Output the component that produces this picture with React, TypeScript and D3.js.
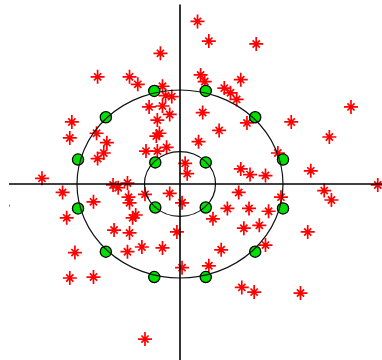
import React from "react";
import * as d3 from "d3";

const W = 382;
const H = 360;

// Scattered samples (data units; the unit circle is the outer ring)
const starX = [
  0.17, 0.28, 0.74, -0.19, -0.8, -0.49, -0.41, -0.17, -0.08, -0.3, -0.17, -0.1, -0.22, -0.2, -0.13, -0.33,
  0.2, 0.24, 0.43, 0.49, 0.55, 0.59, 0.22, 0.38, 0.18, 0.65, 1.08, 1.66, 1.45, 0.95, 1.27, 0.59, 0.68, 0.83,
  0.05, 0.07, -1.05, -1.07, -0.81, -0.71, -0.74, -0.8, -1.34, 1.92, -0.65, -0.51, -0.34, -0.1, 0.02, -0.49,
  -0.46, -0.64, -0.49, -0.51, -0.37, -0.17, -0.03, 0.02, -1.14, -0.84, -1.1, -1.02, -1.07, -0.84, -0.34,
  0.28, 0.4, 0.32, 0.46, 0.57, 0.62, 0.6, 0.72, 0.67, 0.86, 0.98, 0.77, 0.83, 1.24, 1.17, 1.4, 1.47, -1.72,
  -0.14, -0.23, -0.22, -0.6, -0.5, -0.43,
];
const starY = [
  1.73, 1.52, 1.49, 1.39, 1.14, 1.14, 1.06, 1.04, 0.93, 0.82, 0.83, 0.74, 0.68, 0.54, 0.39, 0.35,
  1.16, 1.09, 1.02, 0.97, 0.9, 1.11, 0.76, 0.57, 0.45, 0.65, 0.66, 0.82, 0.5, 0.33, 0.14, 0.16, 0.1, 0.09,
  0.22, 0.11, 0.66, 0.49, 0.54, 0.44, 0.33, 0.27, 0.06, -0.01, -0.01, 0.01, -0.11, -0.1, -0.2, -0.2,
  -0.36, -0.49, -0.52, -0.72, -0.67, -0.68, -0.51, -0.89, -0.09, -0.19, -0.36, -0.73, -1.0, -0.99, -1.65,
  -0.87, -0.7, -0.37, -0.26, -0.09, -0.47, -1.1, -1.15, -0.26, -0.29, -0.14, -0.44, -0.65, -0.51, -1.16, -0.07, -0.17, -0.23,
  0.94, 0.51, 0.35, -0.04, -0.14, -0.33,
];

// Marked points on the outer ring
const outerX = [-0.25, 0.25, 0.73, 1.0, 1.0, 0.73, 0.25, -0.25, -0.72, -0.99, -0.99, -0.72];
const outerY = [0.99, 0.99, 0.71, 0.26, -0.26, -0.72, -0.99, -0.99, -0.72, -0.26, 0.26, 0.71];

// Marked points on the inner ring
const innerX = [-0.24, 0.25, -0.24, 0.25];
const innerY = [0.23, 0.23, -0.25, -0.25];

// Ring radii
const ringRadii = [1, 0.345];

// Axis extents (also the visible plot window)
const axisXRange = [-1.66, 1.98];
const axisYRange = [-1.88, 1.91];

const starPath = "M-7,0H7M0,-7V7M-3.6,-3.6L3.6,3.6M-3.6,3.6L3.6,-3.6";

export default function App() {
  const x = d3.scaleLinear().domain([-1, 1]).range([77, 283]);
  const y = d3.scaleLinear().domain([-1, 1]).range([278, 90]);

  const stars = starX.map((v, i) => ({ x: v, y: starY[i] }));
  const outer = outerX.map((v, i) => ({ x: v, y: outerY[i] }));
  const inner = innerX.map((v, i) => ({ x: v, y: innerY[i] }));
  const dots = [...outer, ...inner];

  const clipX0 = x(axisXRange[0]);

  return (
    <svg
      width={W}
      height={H}
      style={{ position: "absolute", left: 0, top: 0, background: "#fff" }}
    >
      <defs>
        <clipPath id="plot-window">
          <rect x={clipX0} y={0} width={W - clipX0} height={H} />
        </clipPath>
      </defs>
      <g clipPath="url(#plot-window)">
        {stars.map((d, i) => (
          <path
            key={i}
            d={starPath}
            transform={`translate(${x(d.x)},${y(d.y)})`}
            fill="none"
            stroke="#ff0000"
            strokeWidth={1.7}
          />
        ))}
      </g>
      <g>
        {dots.map((d, i) => (
          <circle
            key={i}
            cx={x(d.x)}
            cy={y(d.y)}
            r={5.6}
            fill="#00e000"
            stroke="#000"
            strokeWidth={1.3}
          />
        ))}
      </g>
      <g>
        {ringRadii.map((r, i) => (
          <ellipse
            key={i}
            cx={x(0)}
            cy={y(0)}
            rx={x(r) - x(0)}
            ry={y(0) - y(r)}
            fill="none"
            stroke="#111"
            strokeWidth={1.2}
          />
        ))}
      </g>
      <g stroke="#000" strokeWidth={1.6}>
        <line x1={x(axisXRange[0])} x2={x(axisXRange[1])} y1={y(0)} y2={y(0)} />
        <line x1={x(0)} x2={x(0)} y1={y(axisYRange[0])} y2={y(axisYRange[1])} />
      </g>
    </svg>
  );
}
